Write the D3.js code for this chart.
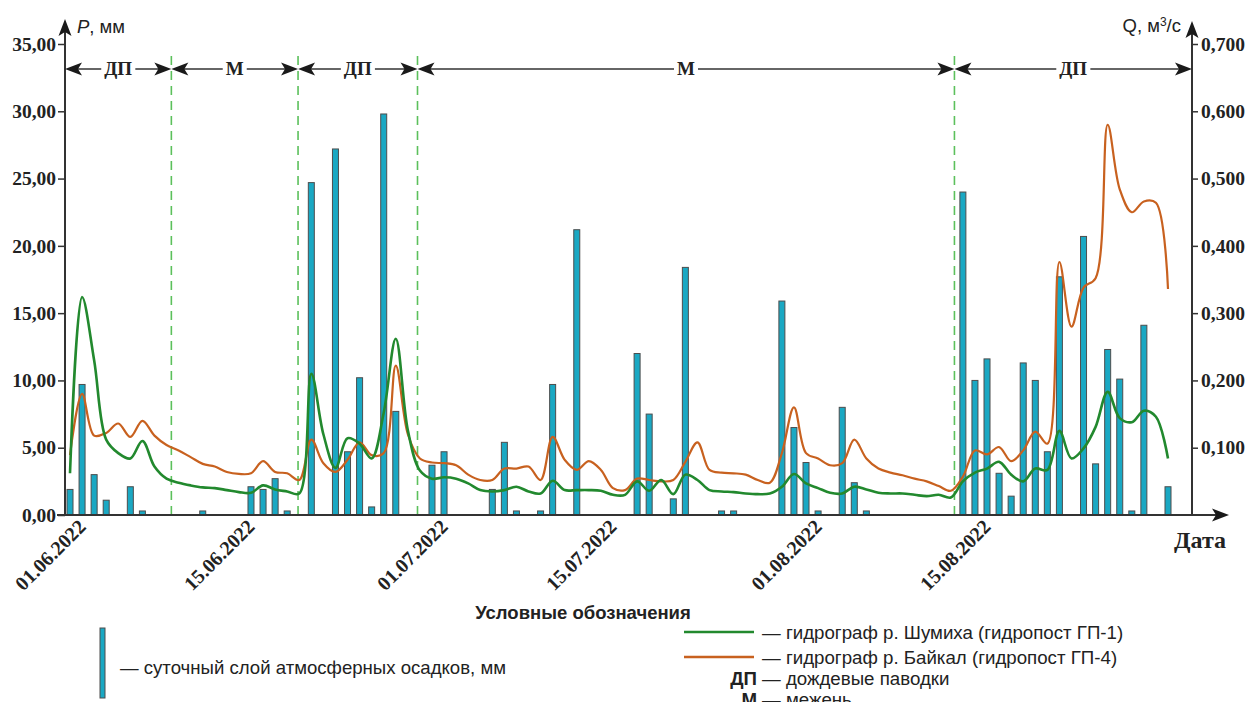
<!DOCTYPE html>
<html>
<head>
<meta charset="utf-8">
<script src="https://cdn.jsdelivr.net/npm/d3@7"></script>
<style>
	body { margin: 0; background: #fff; }
	svg { display: block; }
	.serif { font-family: "Liberation Serif", "Times New Roman", serif; font-weight: bold; fill: #222; }
	.sans { font-family: "Liberation Sans", Arial, sans-serif; fill: #222; }
</style>
</head>
<body>
<svg id="chart" width="1252" height="702"></svg>
<script>
var startDate = "2022-06-01";

// суточный слой осадков, мм (01.06 - 31.08)
var precip = [
	1.9, 9.7, 3.0, 1.1, 0, 2.1, 0.3, 0, 0, 0,
	0, 0.3, 0, 0, 0, 2.1, 1.9, 2.7, 0.3, 0,
	24.7, 0, 27.2, 4.7, 10.2, 0.6, 29.8, 7.7, 0, 0,
	3.7, 4.7, 0, 0, 0, 1.9, 5.4, 0.3, 0, 0.3,
	9.7, 0, 21.2, 0, 0, 0, 0, 12.0, 7.5, 0,
	1.2, 18.4, 0, 0, 0.3, 0.3, 0, 0, 0, 15.9,
	6.5, 3.9, 0.3, 0, 8.0, 2.4, 0.3, 0, 0, 0,
	0, 0, 0, 0, 24.0, 10.0, 11.6, 3.1, 1.4, 11.3,
	10.0, 4.7, 17.7, 0, 20.7, 3.8, 12.3, 10.1, 0.3, 14.1,
	0, 2.1
];

// расход р. Шумиха, ГП-1, м3/с
var qShumikha = [
	0.062, 0.324, 0.230, 0.112, 0.092, 0.084, 0.110, 0.072, 0.054, 0.048,
	0.044, 0.041, 0.040, 0.037, 0.034, 0.033, 0.044, 0.038, 0.035, 0.032,
	0.210, 0.120, 0.070, 0.114, 0.106, 0.084, 0.152, 0.262, 0.126, 0.066,
	0.054, 0.056, 0.054, 0.047, 0.037, 0.035, 0.037, 0.042, 0.035, 0.032,
	0.051, 0.037, 0.037, 0.037, 0.036, 0.030, 0.030, 0.050, 0.036, 0.052,
	0.031, 0.060, 0.052, 0.037, 0.035, 0.034, 0.032, 0.031, 0.032, 0.042,
	0.061, 0.047, 0.040, 0.033, 0.032, 0.042, 0.038, 0.033, 0.032, 0.032,
	0.030, 0.028, 0.030, 0.026, 0.050, 0.063, 0.069, 0.079, 0.060, 0.050,
	0.069, 0.067, 0.125, 0.084, 0.099, 0.131, 0.183, 0.144, 0.138, 0.155,
	0.146, 0.084
];

// расход р. Байкал, ГП-4, м3/с
var qBaikal = [
	0.089, 0.180, 0.118, 0.122, 0.136, 0.116, 0.140, 0.118, 0.104, 0.096,
	0.086, 0.076, 0.072, 0.064, 0.061, 0.062, 0.080, 0.064, 0.062, 0.052,
	0.112, 0.077, 0.064, 0.082, 0.108, 0.089, 0.092, 0.222, 0.120, 0.084,
	0.078, 0.077, 0.074, 0.060, 0.052, 0.052, 0.069, 0.069, 0.072, 0.052,
	0.116, 0.082, 0.067, 0.080, 0.067, 0.040, 0.037, 0.054, 0.052, 0.050,
	0.052, 0.079, 0.108, 0.067, 0.063, 0.062, 0.060, 0.052, 0.048, 0.092,
	0.160, 0.092, 0.084, 0.074, 0.077, 0.112, 0.084, 0.069, 0.063, 0.059,
	0.054, 0.050, 0.043, 0.036, 0.057, 0.096, 0.090, 0.101, 0.080, 0.096,
	0.124, 0.106, 0.376, 0.280, 0.338, 0.352, 0.580, 0.484, 0.450, 0.466,
	0.464, 0.336
];

var pTicks = [0, 5, 10, 15, 20, 25, 30, 35];
var qTicks = [0.1, 0.2, 0.3, 0.4, 0.5, 0.6, 0.7];
var dateTicks = ["2022-06-01", "2022-06-15", "2022-07-01", "2022-07-15", "2022-08-01", "2022-08-15"];

// границы фаз, сутки от 01.06
var phaseBounds = [8.4, 18.9, 28.8, 73.3];
var phaseLabels = ["ДП", "М", "ДП", "М", "ДП"];

var legendItems = [
	{ text: "— гидрограф р. Шумиха (гидропост ГП-1)", color: "#22892e" },
	{ text: "— гидрограф р. Байкал (гидропост ГП-4)", color: "#c8611f" }
];
var legendAbbr = [["ДП", "— дождевые паводки"], ["М", "— межень"]];

var svg = d3.select("#chart");
var parse = d3.utcParse("%Y-%m-%d");
var start = parse(startDate);
var dayDate = function(d) { return new Date(+start + d * 864e5); };
var days = precip.map(function(v, i) { return dayDate(i); });

var axisLeftX = 65, axisRightX = 1192, baseY = 515;

var x = d3.scaleUtc()
	.domain([days[0], days[days.length - 1]])
	.range([70, 1168]);
var yP = d3.scaleLinear().domain([0, 35]).range([baseY, 44]);
var yQ = d3.scaleLinear().domain([0, 0.7]).range([baseY, 44]);

var comma = function(fmt) {
	var f = d3.format(fmt);
	return function(d) { return f(d).replace(".", ","); };
};

var arrowHead = function(g, tx, ty, angle) {
	g.append("path")
		.attr("d", "M0,0L-17,-6.5L-13,0L-17,6.5Z")
		.attr("transform", "translate(" + tx + "," + ty + ") rotate(" + angle + ")")
		.attr("fill", "#1a1a1a");
};

// пунктирные границы фаз
var boundsX = phaseBounds.map(function(b) { return x(dayDate(b)); });
svg.append("g").selectAll("line")
	.data(boundsX)
	.enter().append("line")
	.attr("x1", function(d) { return d; })
	.attr("x2", function(d) { return d; })
	.attr("y1", 56)
	.attr("y2", baseY)
	.attr("stroke", "#5cc05c")
	.attr("stroke-width", 1.6)
	.attr("stroke-dasharray", "9,6");

// столбцы осадков
svg.append("g").selectAll("rect")
	.data(precip.map(function(v, i) { return { date: days[i], p: v }; }).filter(function(d) { return d.p > 0; }))
	.enter().append("rect")
	.attr("x", function(d) { return x(d.date) - 3; })
	.attr("y", function(d) { return yP(d.p); })
	.attr("width", 6)
	.attr("height", function(d) { return baseY - yP(d.p); })
	.attr("fill", "#1aa8c3")
	.attr("stroke", "#4d4d4d")
	.attr("stroke-width", 1);

// гидрографы
var line = d3.line()
	.x(function(d, i) { return x(days[i]); })
	.y(function(d) { return yQ(d); })
	.curve(d3.curveCatmullRom.alpha(0.5));

svg.append("path").datum(qBaikal)
	.attr("d", line)
	.attr("fill", "none")
	.attr("stroke", "#c8611f")
	.attr("stroke-width", 2.2);

svg.append("path").datum(qShumikha)
	.attr("d", line)
	.attr("fill", "none")
	.attr("stroke", "#22892e")
	.attr("stroke-width", 2.6);

// оси
var axes = svg.append("g");
axes.append("line")
	.attr("x1", axisLeftX).attr("x2", axisLeftX)
	.attr("y1", baseY).attr("y2", 26)
	.attr("stroke", "#333").attr("stroke-width", 2);
arrowHead(axes, axisLeftX, 19, -90);

axes.append("line")
	.attr("x1", axisRightX).attr("x2", axisRightX)
	.attr("y1", baseY).attr("y2", 28)
	.attr("stroke", "#333").attr("stroke-width", 2);
arrowHead(axes, axisRightX, 21, -90);

axes.append("line")
	.attr("x1", axisLeftX - 8).attr("x2", 1220)
	.attr("y1", baseY).attr("y2", baseY)
	.attr("stroke", "#333").attr("stroke-width", 2);
arrowHead(axes, 1229, baseY, 0);

var leftAxis = svg.append("g")
	.attr("transform", "translate(" + axisLeftX + ",0)")
	.call(d3.axisLeft(yP).tickValues(pTicks).tickFormat(comma(".2f")).tickSize(7).tickPadding(2));
leftAxis.select(".domain").remove();

var rightAxis = svg.append("g")
	.attr("transform", "translate(" + axisRightX + ",0)")
	.call(d3.axisRight(yQ).tickValues(qTicks).tickFormat(comma(".3f")).tickSize(6).tickPadding(3));
rightAxis.select(".domain").remove();

svg.selectAll(".tick line").attr("stroke", "#333").attr("stroke-width", 1.5);
svg.selectAll(".tick text")
	.attr("class", "serif")
	.style("font-size", "19.5px")
	.attr("fill", "#222");

// подписи дат
svg.append("g").selectAll("text")
	.data(dateTicks)
	.enter().append("text")
	.attr("class", "serif")
	.attr("text-anchor", "end")
	.attr("transform", function(d) {
		return "translate(" + (x(parse(d)) + 17) + ",528) rotate(-45)";
	})
	.style("font-size", "20px")
	.text(function(d) { return d3.utcFormat("%d.%m.%Y")(parse(d)); });

svg.append("text")
	.attr("class", "serif")
	.attr("x", 1174).attr("y", 548)
	.style("font-size", "24px")
	.text("Дата");

var pLabel = svg.append("text")
	.attr("class", "sans")
	.attr("x", 77).attr("y", 33)
	.style("font-size", "18.5px");
pLabel.append("tspan").style("font-style", "italic").text("P");
pLabel.append("tspan").text(", мм");

var qLabel = svg.append("text")
	.attr("class", "sans")
	.attr("x", 1181).attr("y", 32)
	.attr("text-anchor", "end")
	.style("font-size", "18.5px");
qLabel.append("tspan").text("Q, м");
qLabel.append("tspan").attr("dy", -6).style("font-size", "12px").text("3");
qLabel.append("tspan").attr("dy", 6).text("/с");

// фазы режима
var phaseEdges = [axisLeftX].concat(boundsX, [axisRightX]);
var phaseY = 69;
var phases = svg.append("g");
phaseLabels.forEach(function(label, i) {
	var x0 = phaseEdges[i], x1 = phaseEdges[i + 1];
	var g = phases.append("g");
	g.append("line")
		.attr("x1", x0 + 4).attr("x2", x1 - 4)
		.attr("y1", phaseY).attr("y2", phaseY)
		.attr("stroke", "#333").attr("stroke-width", 1.6);
	arrowHead(g, x0, phaseY, 180);
	arrowHead(g, x1, phaseY, 0);
	var bg = g.append("rect").attr("fill", "#fff");
	var t = g.append("text")
		.attr("class", "serif")
		.attr("x", (x0 + x1) / 2)
		.attr("y", phaseY + 6)
		.attr("text-anchor", "middle")
		.style("font-size", "19px")
		.text(label);
	var bb = t.node().getBBox();
	bg.attr("x", bb.x - 3).attr("y", bb.y).attr("width", bb.width + 6).attr("height", bb.height);
});

// условные обозначения
var legend = svg.append("g");
legend.append("text")
	.attr("class", "sans")
	.attr("x", 583).attr("y", 619)
	.attr("text-anchor", "middle")
	.style("font-size", "18.5px")
	.style("font-weight", "bold")
	.text("Условные обозначения");

legend.append("rect")
	.attr("x", 100).attr("y", 628)
	.attr("width", 5).attr("height", 70)
	.attr("fill", "#1aa8c3")
	.attr("stroke", "#4d4d4d")
	.attr("stroke-width", 1);
legend.append("text")
	.attr("class", "sans")
	.attr("x", 120).attr("y", 674)
	.style("font-size", "18.6px")
	.text("— суточный слой атмосферных осадков, мм");

legendItems.forEach(function(d, i) {
	var ly = 632 + i * 25;
	legend.append("line")
		.attr("x1", 684).attr("x2", 754)
		.attr("y1", ly).attr("y2", ly)
		.attr("stroke", d.color).attr("stroke-width", 2.5);
	legend.append("text")
		.attr("class", "sans")
		.attr("x", 762).attr("y", ly + 7)
		.style("font-size", "18.7px")
		.text(d.text);
});

legendAbbr.forEach(function(d, i) {
	var ly = 685 + i * 21;
	legend.append("text")
		.attr("class", "sans")
		.attr("x", 757).attr("y", ly)
		.attr("text-anchor", "end")
		.style("font-size", "18.7px")
		.style("font-weight", "bold")
		.text(d[0]);
	legend.append("text")
		.attr("class", "sans")
		.attr("x", 762).attr("y", ly)
		.style("font-size", "18.7px")
		.text(d[1]);
});
</script>
</body>
</html>
